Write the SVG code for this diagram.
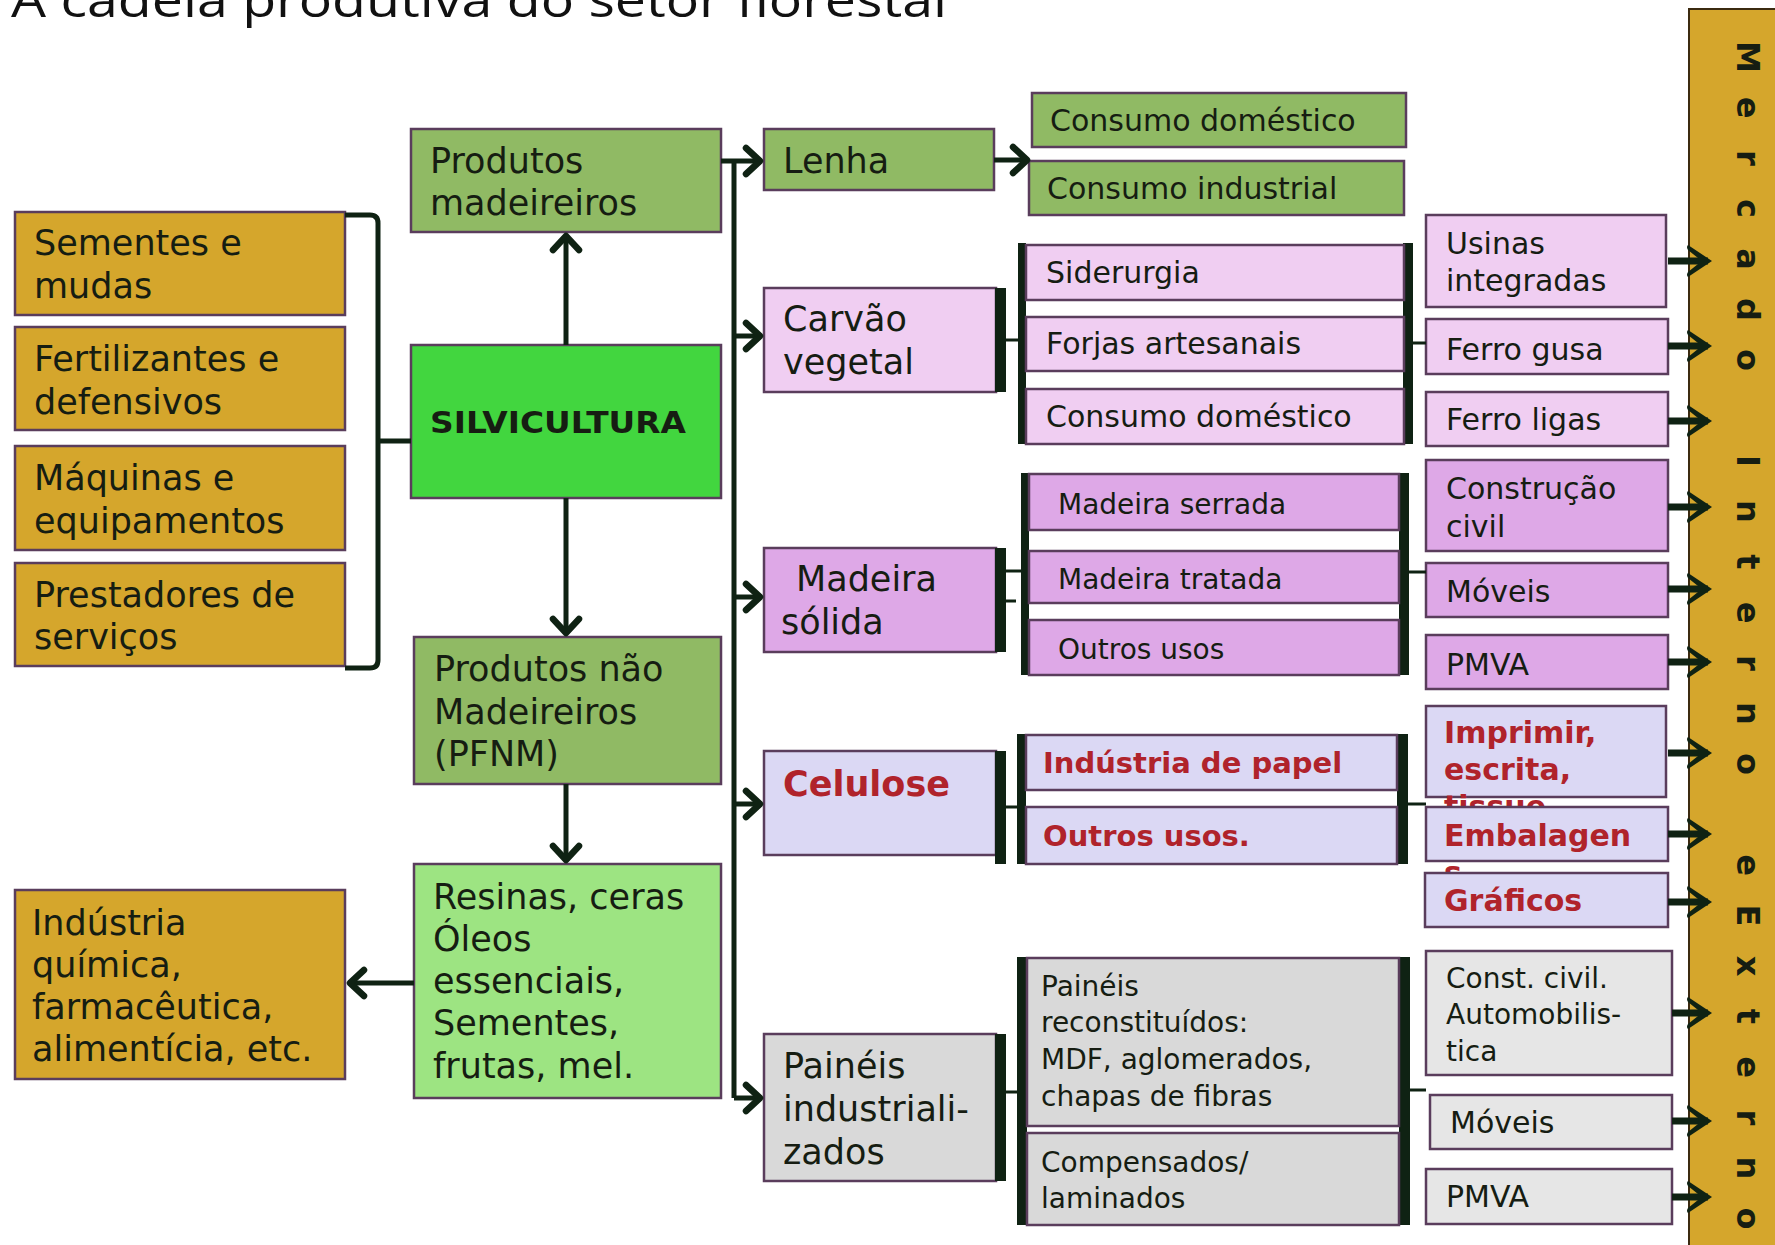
<svg xmlns="http://www.w3.org/2000/svg" width="1775" height="1245" viewBox="0 0 1775 1245">
<style>
.t{font-family:"DejaVu Sans",Verdana,sans-serif;fill:#161d12;}
.f35{font-size:35px;}
.f30{font-size:30px;}
.f28{font-size:28px;}
.b{font-weight:bold;}
.red{fill:#b0232b;}
.box{stroke:#5a3d5c;stroke-width:2.5;}
.gold{fill:#d5a62c;}
.olive{fill:#90ba64;}
.lg{fill:#9de482;}
.sv{fill:#42d63f;}
.pk{fill:#f0cef2;}
.or{fill:#dea8e7;}
.lv{fill:#dbd8f4;}
.gy{fill:#d9d9d9;}
.gy2{fill:#e6e6e6;}
.bar{fill:#0f2213;}
.ln{stroke:#0f2213;stroke-width:5;fill:none;}
.thin{stroke:#0f2213;stroke-width:3;fill:none;}
.ar{stroke:#0f2213;stroke-width:5;fill:none;marker-end:url(#chev);}
.ar2{stroke:#0f2213;stroke-width:7;fill:none;marker-end:url(#chev2);}
</style>
<defs>
<marker id="chev" markerUnits="userSpaceOnUse" viewBox="-22 -18 28 36" refX="0" refY="0" markerWidth="28" markerHeight="36" orient="auto">
<path d="M-14,-13 L0,0 L-14,13" fill="none" stroke="#0f2213" stroke-width="6.5" stroke-linecap="round" stroke-linejoin="round"/>
</marker>
<marker id="chev2" markerUnits="userSpaceOnUse" viewBox="-28 -22 34 44" refX="0" refY="0" markerWidth="34" markerHeight="44" orient="auto">
<path d="M4,0 L-20,-16 Q-22,-14 -20,-11 L-10,-3 L-20,-3 L-20,3 L-10,3 L-20,11 Q-22,14 -20,16 Z" fill="#0f2213"/>
</marker>
</defs>
<rect x="0" y="0" width="1775" height="1245" fill="#ffffff"/>
<text x="11" y="17" font-family="'Open Sans',sans-serif" font-size="48" fill="#111" textLength="936" lengthAdjust="spacingAndGlyphs">A cadeia produtiva do setor florestal</text>

<g id="mercado"><rect x="1689" y="9" width="100" height="1250" fill="#d5a62c" stroke="#3b2a10" stroke-width="2"/>
<text class="t b" font-size="32" fill="#111" text-anchor="middle" dominant-baseline="central" transform="translate(1748,0) rotate(90)" x="57 107.5 158 208.5 259 309.5 360 410.5 461 511.5 562 612.5 663 713.5 764 814.5 865 915.5 966 1016.5 1067 1117.5 1168 1218.5" y="0">Mercado Interno eExterno</text></g>

<g id="sementes"><rect class="box gold" x="15" y="212" width="330" height="103"/><text class="t f35" x="34"><tspan x="34" y="255">Sementes e</tspan><tspan x="34" y="298">mudas</tspan></text></g>
<g id="fertilizantes"><rect class="box gold" x="15" y="327" width="330" height="103"/><text class="t f35"><tspan x="34" y="371">Fertilizantes e</tspan><tspan x="34" y="414">defensivos</tspan></text></g>
<g id="maquinas"><rect class="box gold" x="15" y="446" width="330" height="104"/><text class="t f35"><tspan x="34" y="490">Máquinas e</tspan><tspan x="34" y="533">equipamentos</tspan></text></g>
<g id="prestadores"><rect class="box gold" x="15" y="563" width="330" height="103"/><text class="t f35"><tspan x="34" y="607">Prestadores de</tspan><tspan x="34" y="649">serviços</tspan></text></g>
<g id="industria"><rect class="box gold" x="15" y="890" width="330" height="189"/><text class="t f35"><tspan x="32" y="935">Indústria</tspan><tspan x="32" y="977">química,</tspan><tspan x="32" y="1019">farmacêutica,</tspan><tspan x="32" y="1061">alimentícia, etc.</tspan></text></g>

<g id="produtos-madeireiros"><rect class="box olive" x="411" y="129" width="310" height="103"/><text class="t f35"><tspan x="430" y="173">Produtos</tspan><tspan x="430" y="215">madeireiros</tspan></text></g>
<g id="silvicultura"><rect class="box sv" x="411" y="345" width="310" height="153"/><text class="t b" x="430" y="433" font-size="30" fill="#1b3a1b" textLength="256" lengthAdjust="spacingAndGlyphs">SILVICULTURA</text></g>
<g id="pfnm"><rect class="box olive" x="414" y="637" width="307" height="147"/><text class="t f35"><tspan x="434" y="681">Produtos não</tspan><tspan x="434" y="724">Madeireiros</tspan><tspan x="434" y="766">(PFNM)</tspan></text></g>
<g id="resinas"><rect class="box lg" x="414" y="864" width="307" height="234"/><text class="t f35"><tspan x="433" y="909">Resinas, ceras</tspan><tspan x="433" y="951">Óleos</tspan><tspan x="433" y="993">essenciais,</tspan><tspan x="433" y="1035">Sementes,</tspan><tspan x="433" y="1078">frutas, mel.</tspan></text></g>

<g id="lenha"><rect class="box olive" x="764" y="129" width="230" height="61"/><text class="t f35" x="783" y="173">Lenha</text></g>
<g id="consumo-domestico-lenha"><rect class="box olive" x="1032" y="93" width="374" height="54"/><text class="t f30" x="1050" y="131">Consumo doméstico</text></g>
<g id="consumo-industrial"><rect class="box olive" x="1029" y="161" width="375" height="54"/><text class="t f30" x="1047" y="199">Consumo industrial</text></g>

<g id="carvao"><rect class="box pk" x="764" y="288" width="232" height="104"/><rect class="bar" x="995" y="288" width="11" height="104"/><text class="t f35"><tspan x="783" y="331">Carvão</tspan><tspan x="783" y="374">vegetal</tspan></text></g>
<g id="carvao-usos"><rect class="bar" x="1018" y="243" width="8" height="201"/><rect class="bar" x="1403" y="243" width="10" height="201"/>
<rect class="box pk" x="1026" y="245" width="378" height="55"/><text class="t f30" x="1046" y="283">Siderurgia</text>
<rect class="box pk" x="1026" y="317" width="378" height="54"/><text class="t f30" x="1046" y="354">Forjas artesanais</text>
<rect class="box pk" x="1026" y="389" width="378" height="55"/><text class="t f30" x="1046" y="427">Consumo doméstico</text></g>
<g id="usinas"><rect class="box pk" x="1426" y="215" width="240" height="92"/><text class="t f30"><tspan x="1446" y="254">Usinas</tspan><tspan x="1446" y="291">integradas</tspan></text></g>
<g id="ferro-gusa"><rect class="box pk" x="1426" y="319" width="242" height="55"/><text class="t f30" x="1446" y="360">Ferro gusa</text></g>
<g id="ferro-ligas"><rect class="box pk" x="1426" y="392" width="242" height="54"/><text class="t f30" x="1446" y="430">Ferro ligas</text></g>

<g id="madeira-solida"><rect class="box or" x="764" y="548" width="232" height="104"/><rect class="bar" x="995" y="548" width="11" height="104"/><text class="t f35"><tspan x="796" y="591">Madeira</tspan><tspan x="781" y="634">sólida</tspan></text></g>
<g id="madeira-usos"><rect class="bar" x="1021" y="473" width="8" height="202"/><rect class="bar" x="1399" y="473" width="10" height="202"/>
<rect class="box or" x="1029" y="474" width="370" height="56"/><text class="t f28" x="1058" y="514">Madeira serrada</text>
<rect class="box or" x="1029" y="551" width="370" height="52"/><text class="t f28" x="1058" y="589">Madeira tratada</text>
<rect class="box or" x="1029" y="620" width="370" height="55"/><text class="t f28" x="1058" y="659">Outros usos</text></g>
<g id="construcao"><rect class="box or" x="1426" y="460" width="242" height="91"/><text class="t f30"><tspan x="1446" y="499">Construção</tspan><tspan x="1446" y="537">civil</tspan></text></g>
<g id="moveis1"><rect class="box or" x="1426" y="563" width="242" height="54"/><text class="t f30" x="1446" y="602">Móveis</text></g>
<g id="pmva1"><rect class="box or" x="1426" y="635" width="242" height="54"/><text class="t f30" x="1446" y="675">PMVA</text></g>

<g id="celulose"><rect class="box lv" x="764" y="751" width="232" height="104"/><rect class="bar" x="995" y="751" width="11" height="113"/><text class="t b red" font-size="35" x="783" y="796">Celulose</text></g>
<g id="celulose-usos"><rect class="bar" x="1017" y="734" width="9" height="130"/><rect class="bar" x="1397" y="734" width="11" height="130"/>
<rect class="box lv" x="1026" y="735" width="371" height="55"/><text class="t b red" font-size="29" x="1043" y="773">Indústria de papel</text>
<rect class="box lv" x="1026" y="807" width="371" height="57"/><text class="t b red" font-size="29" x="1043" y="846">Outros usos.</text></g>
<g id="imprimir"><rect class="box lv" x="1426" y="706" width="240" height="91"/><text class="t b red" font-size="30"><tspan x="1444" y="743">Imprimir,</tspan><tspan x="1444" y="780">escrita,</tspan><tspan x="1444" y="817">tissue</tspan></text></g>
<g id="embalagens"><rect class="box lv" x="1426" y="807" width="242" height="54"/><text class="t b red" font-size="30"><tspan x="1444" y="846">Embalagen</tspan><tspan x="1444" y="883">s</tspan></text></g>
<g id="graficos"><rect class="box lv" x="1425" y="873" width="243" height="54"/><text class="t b red" font-size="30" x="1444" y="911">Gráficos</text></g>

<g id="paineis"><rect class="box gy" x="764" y="1034" width="232" height="147"/><rect class="bar" x="995" y="1034" width="11" height="147"/><text class="t f35"><tspan x="783" y="1078">Painéis</tspan><tspan x="783" y="1121">industriali-</tspan><tspan x="783" y="1164">zados</tspan></text></g>
<g id="paineis-usos"><rect class="bar" x="1017" y="957" width="10" height="268"/><rect class="bar" x="1399" y="957" width="11" height="268"/>
<rect class="box gy" x="1027" y="958" width="372" height="168"/><text class="t f28"><tspan x="1041" y="996">Painéis</tspan><tspan x="1041" y="1032">reconstituídos:</tspan><tspan x="1041" y="1069">MDF, aglomerados,</tspan><tspan x="1041" y="1106">chapas de fibras</tspan></text>
<rect class="box gy" x="1027" y="1133" width="372" height="92"/><text class="t f28"><tspan x="1041" y="1172">Compensados/</tspan><tspan x="1041" y="1208">laminados</tspan></text></g>
<g id="const-civil"><rect class="box gy2" x="1426" y="951" width="246" height="124"/><text class="t f28"><tspan x="1446" y="988">Const. civil.</tspan><tspan x="1446" y="1024">Automobilis-</tspan><tspan x="1446" y="1061">tica</tspan></text></g>
<g id="moveis2"><rect class="box gy2" x="1430" y="1095" width="242" height="54"/><text class="t f30" x="1450" y="1133">Móveis</text></g>
<g id="pmva2"><rect class="box gy2" x="1426" y="1169" width="246" height="55"/><text class="t f30" x="1446" y="1207">PMVA</text></g>

<g id="connectors">
<path class="ln" d="M345,215 H370 Q378,215 378,223 V660 Q378,668 370,668 H345"/>
<path class="ln" d="M378,441 H411"/>
<line class="ar" x1="566" y1="345" x2="566" y2="236"/>
<line class="ar" x1="566" y1="498" x2="566" y2="633"/>
<line class="ar" x1="566" y1="784" x2="566" y2="860"/>
<line class="ar" x1="414" y1="983" x2="350" y2="983"/>
<line class="ln" x1="734" y1="161" x2="734" y2="1098"/>
<line class="ar" x1="721" y1="161" x2="760" y2="161"/>
<line class="ar" x1="734" y1="336" x2="760" y2="336"/>
<line class="ar" x1="734" y1="597" x2="760" y2="597"/>
<line class="ar" x1="734" y1="804" x2="760" y2="804"/>
<line class="ar" x1="734" y1="1098" x2="760" y2="1098"/>
<line class="ar" x1="994" y1="160" x2="1027" y2="160"/>
<line class="thin" x1="1006" y1="340" x2="1018" y2="340"/>
<line class="thin" x1="1006" y1="571" x2="1021" y2="571"/>
<line class="thin" x1="1006" y1="601" x2="1016" y2="601"/>
<line class="thin" x1="1006" y1="807" x2="1017" y2="807"/>
<line class="thin" x1="1006" y1="1092" x2="1017" y2="1092"/>
<line class="thin" x1="1413" y1="343" x2="1426" y2="343"/>
<line class="thin" x1="1409" y1="572" x2="1426" y2="572"/>
<line class="thin" x1="1408" y1="804" x2="1426" y2="804"/>
<line class="thin" x1="1410" y1="1090" x2="1426" y2="1090"/>
<line class="ar2" x1="1668" y1="261" x2="1708" y2="261"/>
<line class="ar2" x1="1668" y1="346" x2="1708" y2="346"/>
<line class="ar2" x1="1668" y1="421" x2="1708" y2="421"/>
<line class="ar2" x1="1668" y1="507" x2="1708" y2="507"/>
<line class="ar2" x1="1668" y1="589" x2="1708" y2="589"/>
<line class="ar2" x1="1668" y1="662" x2="1708" y2="662"/>
<line class="ar2" x1="1668" y1="753" x2="1708" y2="753"/>
<line class="ar2" x1="1668" y1="834" x2="1708" y2="834"/>
<line class="ar2" x1="1668" y1="902" x2="1708" y2="902"/>
<line class="ar2" x1="1672" y1="1013" x2="1708" y2="1013"/>
<line class="ar2" x1="1672" y1="1121" x2="1708" y2="1121"/>
<line class="ar2" x1="1672" y1="1197" x2="1708" y2="1197"/>
</g>
</svg>
